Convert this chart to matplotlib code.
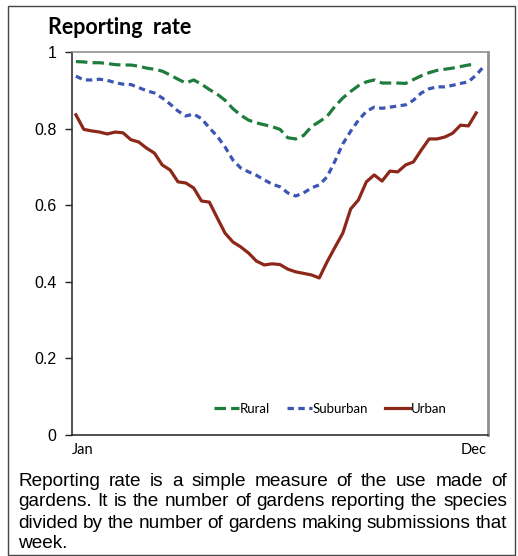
import numpy as np
import matplotlib
matplotlib.use("Agg")
import matplotlib.pyplot as plt
from matplotlib.patches import Rectangle

# weekly reporting rate, Jan -> Dec
rural = [0.975, 0.974, 0.972, 0.972, 0.970, 0.967, 0.966, 0.966, 0.963, 0.958,
         0.955, 0.950, 0.940, 0.929, 0.919, 0.927, 0.916, 0.902, 0.890, 0.874,
         0.852, 0.835, 0.822, 0.815, 0.810, 0.805, 0.798, 0.776, 0.773, 0.782,
         0.805, 0.818, 0.832, 0.858, 0.880, 0.897, 0.912, 0.922, 0.927, 0.919,
         0.919, 0.919, 0.918, 0.928, 0.938, 0.946, 0.952, 0.955, 0.958, 0.962,
         0.966, 0.969]
suburban = [0.937, 0.927, 0.927, 0.929, 0.926, 0.920, 0.916, 0.915, 0.907, 0.899,
            0.893, 0.880, 0.864, 0.846, 0.833, 0.838, 0.826, 0.802, 0.780, 0.752,
            0.718, 0.697, 0.687, 0.678, 0.666, 0.655, 0.648, 0.632, 0.624, 0.632,
            0.645, 0.653, 0.674, 0.715, 0.760, 0.793, 0.822, 0.845, 0.856, 0.853,
            0.856, 0.859, 0.862, 0.874, 0.893, 0.904, 0.909, 0.909, 0.913, 0.918,
            0.922, 0.940, 0.963]
urban = [0.836, 0.798, 0.794, 0.791, 0.786, 0.791, 0.789, 0.771, 0.765, 0.749,
         0.736, 0.705, 0.692, 0.661, 0.658, 0.645, 0.611, 0.608, 0.567, 0.527,
         0.504, 0.491, 0.475, 0.454, 0.444, 0.447, 0.445, 0.433, 0.426, 0.422,
         0.418, 0.410, 0.452, 0.490, 0.527, 0.590, 0.614, 0.661, 0.679, 0.663,
         0.689, 0.687, 0.705, 0.713, 0.744, 0.773, 0.773, 0.778, 0.788, 0.809,
         0.807, 0.841]

series_names = ["Rural", "Suburban", "Urban"]
colors = ["#1e7d3c", "#3c55b4", "#8c2819"]
yticks = [0, 0.2, 0.4, 0.6, 0.8, 1]
ytick_labels = ["0", "0.2", "0.4", "0.6", "0.8", "1"]
caption_lines = ["Reporting rate is a simple measure of the use made of",
                 "gardens. It is the number of gardens reporting the species",
                 "divided by the number of gardens making submissions that",
                 "week."]

W, H = 518, 556
fig = plt.figure(figsize=(W / 100, H / 100), dpi=100)
ax = fig.add_axes([72 / W, 1 - 435 / H, (488 - 72) / W, 383 / H])

weeks_r = np.arange(1, len(rural) + 1)
weeks_s = np.arange(1, len(suburban) + 1)
weeks_u = np.arange(1, len(urban) + 1)

ax.plot(weeks_r, rural, color=colors[0], lw=2.3, dashes=(3.6, 1.6), label=series_names[0])
ax.plot(weeks_s, suburban, color=colors[1], lw=2.3, dashes=(2.0, 1.4), label=series_names[1])
ax.plot(weeks_u, urban, color=colors[2], lw=2.3, label=series_names[2])

ax.set_xlim(0.5, 53.5)
ax.set_ylim(0, 1)
ax.set_xticks([])
ax.set_yticks(yticks)
ax.set_yticklabels(ytick_labels, fontfamily="Liberation Sans", fontsize=11.5)
ax.tick_params(axis="y", length=5, width=1, color="#222222", pad=6)

for s in ["left", "bottom"]:
    ax.spines[s].set_color("#222222")
    ax.spines[s].set_linewidth(1.1)
ax.spines["top"].set_color("#909090")
ax.spines["top"].set_linewidth(1.2)
ax.spines["right"].set_color("#909090")
ax.spines["right"].set_linewidth(2)

leg = ax.legend(loc="lower right", bbox_to_anchor=(0.93, 0.022), ncol=3, frameon=False,
                handlelength=1.9, handletextpad=0.05, columnspacing=1.3,
                prop={"family": "Lato", "size": 9.5})

fig.text(48 / W, 1 - 27 / H, "Reporting  rate", fontfamily="Lato", fontweight="bold",
         fontsize=15.5, va="center", ha="left")
fig.text(72 / W, 1 - 450 / H, "Jan", fontfamily="Lato", fontsize=10.5, va="center", ha="left")
fig.text(487 / W, 1 - 450 / H, "Dec", fontfamily="Lato", fontsize=10.5, va="center", ha="right")

# outer box
fig.patches.append(Rectangle((8 / W, 1 / H), 507 / W, 549 / H, transform=fig.transFigure,
                             fill=False, edgecolor="#444444", lw=1))

# caption, justified line by line
renderer = fig.canvas.get_renderer()
x0, x1 = 18, 507
ys = [481, 502, 523, 544]
for n, (line, yy) in enumerate(zip(caption_lines, ys)):
    words = line.split(" ")
    texts = [fig.text(0, 1 - yy / H, w, fontfamily="Liberation Sans", fontsize=13.7,
                      va="center", ha="left") for w in words]
    widths = [t.get_window_extent(renderer).width for t in texts]
    if n < len(caption_lines) - 1 and len(words) > 1:
        gap = max((x1 - x0 - sum(widths)) / (len(words) - 1), 2.5)
    else:
        gap = 5
    x = x0
    for t, w in zip(texts, widths):
        t.set_x(x / W)
        x += w + gap

fig.savefig("out.png", dpi=100)
